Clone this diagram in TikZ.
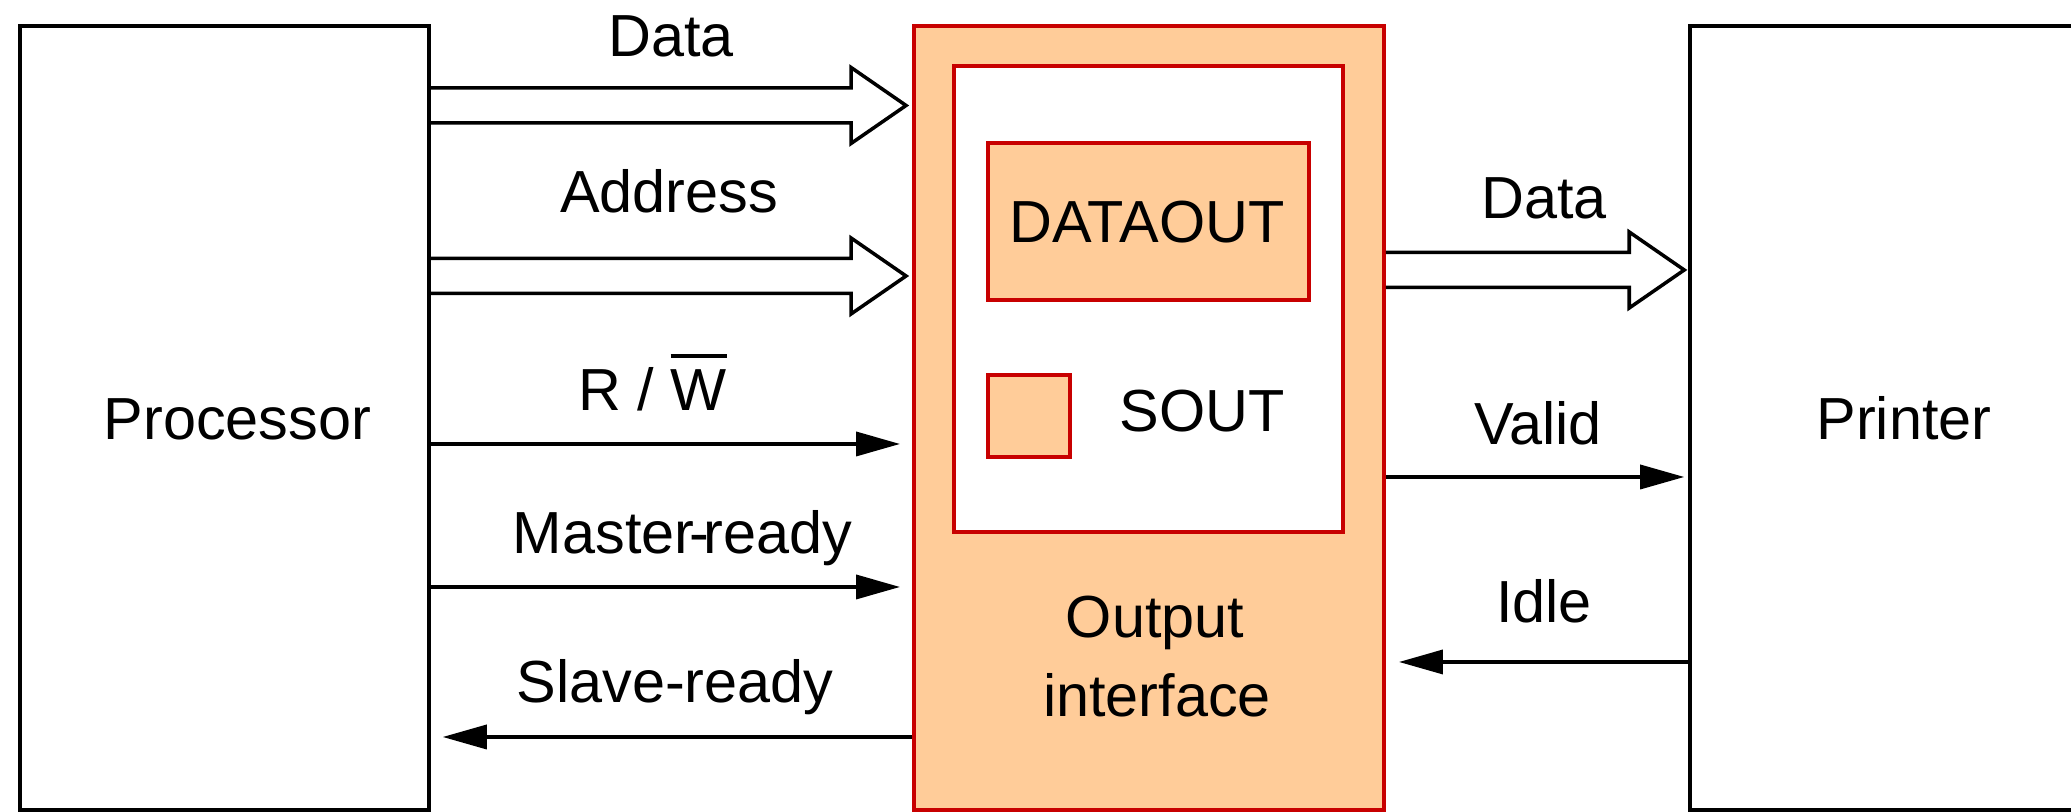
\documentclass[tikz,border=0pt]{standalone}
\usepackage{fontspec}
\setmainfont{Liberation Sans}
\usetikzlibrary{arrows.meta,calc}

\definecolor{ifred}{RGB}{200,0,0}
\definecolor{iffill}{RGB}{255,204,153}

% hollow bus arrow: start point, end point, gap before the tip
\newcommand{\busarrow}[3]{%
  \draw[bus] let \p1=(#1), \p2=(#2) in
    (\x1,\y2+1.75mm) -- (\x2-#3-5.5mm,\y2+1.75mm) -- (\x2-#3-5.5mm,\y2+3.8mm)
    -- (\x2-#3,\y2) -- (\x2-#3-5.5mm,\y2-3.8mm) -- (\x2-#3-5.5mm,\y2-1.75mm)
    -- (\x1,\y2-1.75mm);}
% W with a bar over it
\newcommand{\barW}{\setbox0\hbox{W}\rlap{\rule[0.53cm]{\wd0}{1.1pt}}\box0}

\begin{document}
\begin{tikzpicture}[
  font=\fontsize{16.9}{20}\selectfont,
  unit/.style={draw, line width=1pt, minimum height=7.84cm, inner sep=0pt},
  reg/.style={draw=ifred, line width=1.1pt, fill=iffill, inner sep=0pt},
  lbl/.style={anchor=base, inner sep=0pt},
  sig/.style={line width=1pt, -{Triangle[length=4.4mm,width=2.4mm]}},
  bus/.style={line width=1pt, line join=miter}
]
\useasboundingbox (0,0) rectangle (20.71,8.12);

% the three units
\node[unit, minimum width=4.09cm] (proc) at (2.245,3.94) {};
\node[reg, minimum width=4.70cm, minimum height=7.84cm] (outif) at (11.49,3.94) {};
\node[unit, minimum width=4.26cm] (prn) at (19.03,3.94) {};

% registers inside the interface
\node[reg, fill=white, minimum width=3.89cm, minimum height=4.66cm] (regs) at (11.485,5.13) {};
\node[reg, minimum width=3.21cm, minimum height=1.57cm] (dout) at (11.485,5.905) {};
\node[reg, minimum width=0.82cm, minimum height=0.82cm] (sout) at (10.29,3.96) {};

\node[lbl] (proctxt) at (2.375,3.72) {Processor};
\node[lbl] (prntxt) at (19.04,3.72) {Printer};
\node[lbl] (douttxt) at (11.47,5.69) {DATAOUT};
\node[lbl] (souttxt) at (12.02,3.80) {SOUT};
\node[lbl] (outtxt) at (11.55,1.74) {Output};
\node[lbl] (iftxt) at (11.57,0.95) {interface};

% signal rows
\coordinate (rowData) at (0,7.065);
\coordinate (rowAddr) at (0,5.36);
\coordinate (rowOut) at (0,5.42);

% buses
\busarrow{proc.east |- rowData}{outif.west |- rowData}{0.6mm}
\busarrow{proc.east |- rowAddr}{outif.west |- rowAddr}{0.6mm}
\busarrow{outif.east |- rowOut}{prn.west |- rowOut}{0.4mm}

% control lines
\foreach \y in {3.68,2.25}
  \draw[sig, shorten >=1.2mm] (proc.east |- 0,\y) -- (outif.west |- 0,\y);
\draw[sig, shorten >=1.2mm] (outif.west |- 0,0.75) -- (proc.east |- 0,0.75);
\draw[sig, shorten >=0.4mm] (outif.east |- 0,3.35) -- (prn.west |- 0,3.35);
\draw[sig, shorten >=1.3mm] (prn.west |- 0,1.50) -- (outif.east |- 0,1.50);

% line labels
\node[lbl] (ldata) at (6.71,7.55) {Data};
\node[lbl] (laddr) at (6.69,5.99) {Address};
\node[lbl] (lrw) at (6.525,4.01) {R / \barW};
\node[lbl] (lmr) at (6.825,2.58) {Master\kern-0.09em-\kern-0.09em ready};
\node[lbl] (lsr) at (6.75,1.09) {Slave-ready};
\node[lbl] (rdata) at (15.44,5.93) {Data};
\node[lbl] (rvalid) at (15.38,3.67) {Valid};
\node[lbl] (ridle) at (15.44,1.89) {Idle};
\end{tikzpicture}
\end{document}
